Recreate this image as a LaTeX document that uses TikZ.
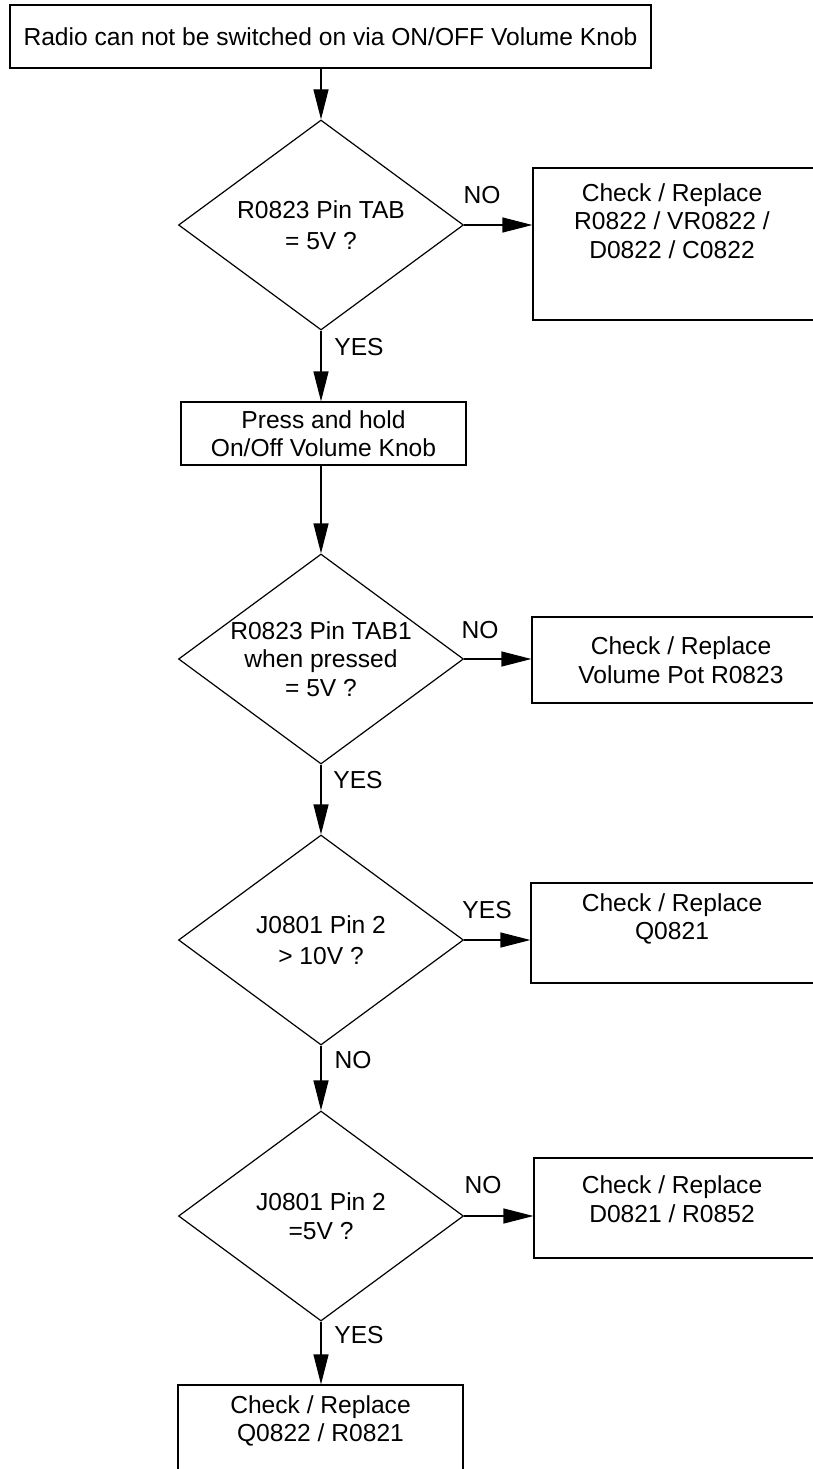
\documentclass[tikz,border=0pt]{standalone}
\usepackage{fontspec}
\setmainfont{Liberation Sans}
\usetikzlibrary{shapes.geometric,arrows.meta}
\tikzset{
    box/.style={draw, line width=1.2pt, inner sep=0pt, align=center},
    test/.style={draw, diamond, shape aspect=1.36, minimum width=285pt, minimum height=210pt, inner sep=0pt, line width=1.2pt, align=center},
    arr/.style={line width=1.2pt, -{Triangle[length=30pt,width=15pt]}},
    every node/.style={font=\fontsize{24.6}{28.5}\selectfont}
}
\begin{document}
\begin{tikzpicture}[x=1pt,y=-1pt]
    \clip (0,0) rectangle (813,1469);
    \fill[white] (0,0) rectangle (813,1469);
    \node[box, minimum width=641pt, minimum height=63pt] (start) at (330.5,36.5) {Radio can not be switched on via ON/OFF Volume Knob};
    \node[test] (t1) at (321,225) {R0823 Pin TAB\\[3pt]= 5V ?};
    \node[box, minimum width=297pt, minimum height=152pt] (r1) at (681.5,244) {};
    \node[align=center] at (672,221) {Check / Replace\\R0822 / VR0822 /\\D0822 / C0822};
    \node[box, minimum width=285pt, minimum height=63pt] (hold) at (323.5,433.5) {Press and hold\\On/Off Volume Knob};
    \node[test] (t2) at (321,659) {R0823 Pin TAB1\\when pressed\\= 5V ?};
    \node[box, minimum width=298pt, minimum height=86pt] (r2) at (681,660) {Check / Replace\\Volume Pot R0823};
    \node[test] (t3) at (321,940) {J0801 Pin 2\\[2pt]> 10V ?};
    \node[box, minimum width=299pt, minimum height=100pt] (r3) at (680.5,933) {};
    \node[align=center] at (672,919) {Check / Replace\\Q0821};
    \node[test] (t4) at (321,1216) {J0801 Pin 2\\[1pt]=5V ?};
    \node[box, minimum width=296pt, minimum height=100pt] (r4) at (682,1208) {};
    \node[align=center] at (672,1199) {Check / Replace\\D0821 / R0852};
    \node[box, minimum width=285pt, minimum height=115pt] (fix) at (320.5,1442.5) {};
    \node[align=center] at (320.5,1421) {Check / Replace\\Q0822 / R0821};
    \draw[arr] (start.south -| t1.north) -- (t1.north);
    \draw[arr] (t1.east) -- (t1.east -| r1.west);
    \draw[arr] (t1.south) -- (t1.south |- hold.north);
    \draw[arr] (hold.south -| t2.north) -- (t2.north);
    \draw[arr] (t2.east) -- (t2.east -| r2.west);
    \draw[arr] (t2.south) -- (t3.north);
    \draw[arr] (t3.east) -- (t3.east -| r3.west);
    \draw[arr] (t3.south) -- (t4.north);
    \draw[arr] (t4.east) -- (t4.east -| r4.west);
    \draw[arr] (t4.south) -- (t4.south |- fix.north);
    \node (no1) at ([xshift=18pt, yshift=30pt]t1.east) {NO};
    \node (yes1) at ([xshift=38pt, yshift=-16pt]t1.south) {YES};
    \node (no2) at ([xshift=16pt, yshift=29pt]t2.east) {NO};
    \node (yes2) at ([xshift=37pt, yshift=-15pt]t2.south) {YES};
    \node (yes3) at ([xshift=23pt, yshift=30pt]t3.east) {YES};
    \node (no3) at ([xshift=32pt, yshift=-14pt]t3.south) {NO};
    \node (no4) at ([xshift=19pt, yshift=31pt]t4.east) {NO};
    \node (yes4) at ([xshift=38pt, yshift=-13pt]t4.south) {YES};
\end{tikzpicture}
\end{document}
